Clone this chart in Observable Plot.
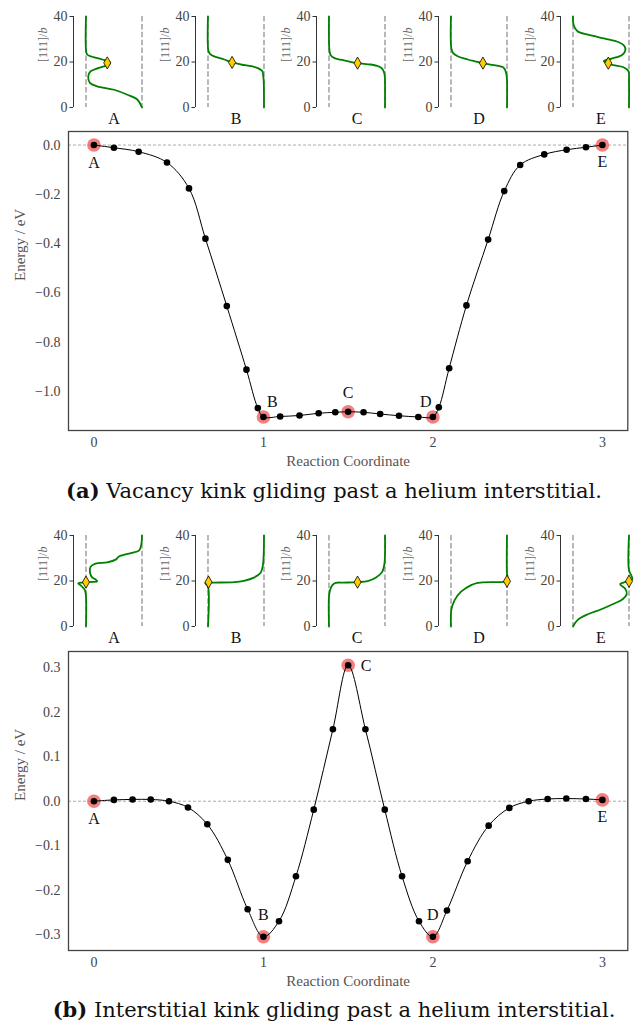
<!DOCTYPE html>
<html><head><meta charset="utf-8">
<script src="https://cdn.jsdelivr.net/npm/d3@7"></script>
<script src="https://cdn.jsdelivr.net/npm/@observablehq/plot@0.6"></script>
<style>
body{margin:0;background:#fff;}
#fig{position:relative;width:634px;height:1025px;overflow:hidden;font-family:"Liberation Serif",serif;background:#fff;}
#fig svg{position:absolute;}
.cap{position:absolute;left:17px;width:634px;text-align:center;font-family:"DejaVu Serif",serif;font-size:21px;color:#111;line-height:1;}
</style></head><body><div id="fig"></div>
<script>
// ---------- DATA ----------
const stateLabels = ["A", "B", "C", "D", "E"];
const stateCoord = [0, 1, 1.5, 2, 3];

// (a) vacancy kink NEB path
const vacX = [0, 0.118, 0.264, 0.431, 0.561, 0.658, 0.784, 0.900, 0.967, 1.0, 1.099, 1.213, 1.326, 1.424, 1.5, 1.591, 1.689, 1.80, 1.914, 2.0, 2.035, 2.096, 2.198, 2.326, 2.421, 2.515, 2.657, 2.789, 2.903, 3.0];
const vacE = [0, -0.011, -0.027, -0.071, -0.176, -0.380, -0.654, -0.912, -1.068, -1.104, -1.102, -1.098, -1.089, -1.085, -1.083, -1.085, -1.092, -1.099, -1.104, -1.104, -1.065, -0.906, -0.651, -0.384, -0.187, -0.081, -0.038, -0.019, -0.009, 0];
const vacYTicks = [0, -0.2, -0.4, -0.6, -0.8, -1.0];

// (b) interstitial kink NEB path
const intX = [0, 0.118, 0.228, 0.335, 0.443, 0.555, 0.669, 0.79, 0.907, 1.0, 1.092, 1.192, 1.297, 1.41, 1.5, 1.602, 1.716, 1.818, 1.918, 2.0, 2.083, 2.205, 2.329, 2.451, 2.565, 2.677, 2.787, 2.903, 3.0];
const intE = [0, 0.003, 0.004, 0.004, 0.0, -0.014, -0.052, -0.132, -0.243, -0.305, -0.270, -0.169, -0.019, 0.162, 0.306, 0.162, -0.019, -0.169, -0.270, -0.305, -0.246, -0.135, -0.055, -0.015, 0.0, 0.005, 0.006, 0.005, 0.003];
const intYTicks = [0.3, 0.2, 0.1, 0, -0.1, -0.2, -0.3];
const xTicks = [0, 1, 2, 3];

// inset dislocation-line profiles: position along [111]/b (z) and glide displacement (x)
const vacProfileZ = [
  [0, 3.4, 5.6, 7.8, 9.3, 10.8, 13.7, 15.9, 17.4, 18.9, 19.8, 21.1, 22.3, 23.3, 25.5, 40],
  [0, 11.6, 14, 16, 17.2, 17.9, 18.9, 19.8, 21.1, 22.5, 23.5, 24.7, 40],
  [0, 11.6, 14, 15.3, 16.5, 17.5, 18.3, 18.9, 19.5, 20.1, 20.7, 21.3, 21.8, 23, 24.7, 40],
  [0, 12, 14.5, 16, 17.5, 18.6, 19.5, 20.3, 21.1, 22.5, 24, 26.2, 40],
  [0, 11.6, 16, 17.7, 18.6, 19.5, 20.4, 21.5, 23, 24.7, 26.9, 28.8, 30.3, 32, 33.5, 36.4, 40]
];
const vacProfileX = [
  [1.0, 0.92, 0.74, 0.5, 0.2, 0.07, 0.04, 0.08, 0.23, 0.41, 0.43, 0.29, 0.11, 0.02, 0, 0],
  [1, 0.995, 0.985, 0.97, 0.9, 0.82, 0.59, 0.43, 0.29, 0.11, 0.04, 0.01, 0],
  [1, 1, 0.995, 0.985, 0.965, 0.93, 0.86, 0.75, 0.51, 0.38, 0.27, 0.16, 0.09, 0.03, 0.01, 0],
  [1, 1, 0.99, 0.975, 0.94, 0.77, 0.57, 0.43, 0.3, 0.12, 0.035, 0.005, 0],
  [1, 1, 0.99, 0.9, 0.72, 0.6, 0.55, 0.69, 0.87, 0.93, 0.92, 0.81, 0.57, 0.27, 0.08, 0.01, 0]
];
const vacHeX = [0.38, 0.43, 0.51, 0.57, 0.63];
const vacHeZ = [19.6, 19.8, 19.5, 19.5, 19.5];

const intProfileZ = [
  [0, 13.1, 16, 18.2, 18.9, 19.3, 19.6, 19.8, 20.7, 21.8, 24, 26.2, 27.6, 28.2, 29.4, 30.8, 32.3, 33.5, 36.4, 40],
  [0, 17.5, 18.6, 19.2, 19.3, 19.5, 20.1, 21.5, 23.6, 26.9, 40],
  [0, 13.1, 16, 18.2, 19.2, 19.3, 19.5, 19.9, 21.5, 24, 27.6, 40],
  [0, 7.3, 11.6, 15.3, 18.2, 19.2, 19.5, 19.7, 19.9, 21.8, 23.3, 40],
  [0, 2.9, 5.4, 7.6, 9.9, 11.9, 14.3, 16.7, 18.6, 19.3, 19.9, 20.7, 22.5, 24.7, 40]
];
const intProfileX = [
  [0, 0, -0.02, -0.1, -0.14, -0.07, 0.11, 0.2, 0.17, 0.1, 0.07, 0.08, 0.17, 0.38, 0.53, 0.59, 0.8, 0.95, 0.99, 1],
  [0, 0, -0.035, -0.05, 0.11, 0.47, 0.64, 0.82, 0.94, 0.98, 1],
  [0, 0, 0.02, 0.06, 0.12, 0.27, 0.51, 0.69, 0.84, 0.95, 0.99, 1],
  [0, 0.006, 0.065, 0.18, 0.36, 0.48, 0.83, 0.98, 1.0, 1.01, 1.0, 1.0],
  [0, 0.084, 0.265, 0.506, 0.717, 0.88, 0.96, 0.93, 0.84, 0.9, 1.0, 1.06, 1.04, 1.0, 1.0]
];
const intHeX = [0.0, 0.01, 0.51, 1.0, 1.0];
const intHeZ = [19.5, 19.5, 19.5, 19.9, 19.9];

const insetZTicks = [0, 20, 40];
const insetZDomain = [0, 40];
const insetXDomain = [-0.223, 1.0];
const dashX = [0, 1];

// ---------- DRAWING ----------
const fig = document.getElementById("fig");
const FONT = "'Liberation Serif', serif";
const fmt = d => d3.format(".1f")(d).replace("-", "\u2212");

function place(svg, left, top) {
  svg.style.left = left + "px";
  svg.style.top = top + "px";
  fig.appendChild(svg);
}

function insetPlot(zs, xs, hx, hz, label) {
  const rows = zs.map((z, i) => ({z, x: xs[i]}));
  const svg = Plot.plot({
    width: 122, height: 125,
    marginLeft: 45, marginRight: 8.5, marginTop: 10, marginBottom: 24,
    x: {domain: insetXDomain, axis: null},
    y: {domain: insetZDomain, axis: null},
    style: {fontFamily: FONT, background: "transparent", overflow: "visible"},
    marks: [
      Plot.ruleX(dashX, {stroke: "#a0a0a0", strokeWidth: 1.5, strokeDasharray: "5.5,2.4"}),
      Plot.ruleX([insetXDomain[0]], {y1: insetZDomain[0], y2: insetZDomain[1], stroke: "#333", strokeWidth: 1}),
      Plot.axisY({ticks: insetZTicks, tickSize: 3.5, tickPadding: 2.5, fontSize: 14, label: null, stroke: "#333", fill: "#444", tickFormat: d => String(d)}),
      Plot.text(["[111]/b"], {frameAnchor: "left", rotate: -90, dx: -30, fontSize: 12, fill: "#666"}),
      Plot.line(rows, {x: "x", y: "z", curve: "catmull-rom", stroke: "#008000", strokeWidth: 1.8}),
      Plot.dot([{x: hx, z: hz}], {x: "x", y: "z", symbol: "diamond", r: 3.7, fill: "#ffcc00", stroke: "#000", strokeWidth: 0.8}),
      Plot.text([label], {x: () => d3.mean(dashX), y: () => insetZDomain[0], dy: 11, lineAnchor: "middle", fontSize: 16, fill: "#111"})
    ]
  });
  svg.querySelectorAll("text").forEach(t => {
    if (t.textContent === "[111]/b") t.innerHTML = '[111]/<tspan font-style="italic">b</tspan>';
  });
  return svg;
}

function mainPlot(xs, es, yDomain, yTicks, offsets) {
  const rows = xs.map((x, i) => ({x, e: es[i]}));
  const states = stateCoord.map((s, k) => {
    const i = xs.findIndex(v => Math.abs(v - s) < 1e-9);
    return {x: xs[i], e: es[i], label: stateLabels[k]};
  });
  return Plot.plot({
    width: 634, height: 350,
    marginLeft: 68, marginRight: 6.7, marginTop: 6, marginBottom: 45,
    x: {domain: [-0.15, 3.15], axis: null},
    y: {domain: yDomain, axis: null},
    style: {fontFamily: FONT, background: "transparent", overflow: "visible"},
    marks: [
      Plot.ruleY([0], {stroke: "#888", strokeWidth: 0.7, strokeDasharray: "3,2"}),
      Plot.axisY({ticks: yTicks, tickSize: 0, tickPadding: 8, tickFormat: fmt, fontSize: 14, fill: "#444", label: null}),
      Plot.axisX({ticks: xTicks, tickSize: 0, tickPadding: 7, tickFormat: d => String(d), fontSize: 14, fill: "#444", label: null}),
      Plot.text(["Energy / eV"], {frameAnchor: "left", rotate: -90, dx: -48, fontSize: 15, fill: "#555"}),
      Plot.text(["Reaction Coordinate"], {frameAnchor: "bottom", dy: 31, lineAnchor: "middle", fontSize: 15, fill: "#555"}),
      Plot.dot(states, {x: "x", y: "e", r: 6.8, fill: "#f26868", fillOpacity: 0.85, stroke: null}),
      Plot.line(rows, {x: "x", y: "e", curve: "catmull-rom", stroke: "#000", strokeWidth: 1}),
      Plot.dot(rows, {x: "x", y: "e", r: 3.3, fill: "#000"}),
      ...states.map((s, k) => Plot.text([s], {x: "x", y: "e", text: "label", dx: offsets[k][0], dy: offsets[k][1], lineAnchor: "middle", fontSize: 16, fill: "#111"})),
      Plot.frame({stroke: "#444", strokeWidth: 1.3})
    ]
  });
}

// insets (a)
const vacDashLeft = [85.3, 207, 328.7, 450.4, 572];
for (let k = 0; k < 5; k++) {
  place(insetPlot(vacProfileZ[k], vacProfileX[k], vacHeX[k], vacHeZ[k], stateLabels[k]), vacDashLeft[k] - 12.5 - 45, 5.5);
}
place(mainPlot(vacX, vacE, [-1.159, 0.055], vacYTicks, [[0, 18], [9, -15], [0, -19], [-7, -15], [0, 17]]), 0, 125);

// insets (b)
for (let k = 0; k < 5; k++) {
  place(insetPlot(intProfileZ[k], intProfileX[k], intHeX[k], intHeZ[k], stateLabels[k]), vacDashLeft[k] - 12.5 - 45, 525);
}
place(mainPlot(intX, intE, [-0.336, 0.337], intYTicks, [[0, 18], [0, -22], [18, 1], [0, -22], [0, 17]]), 0, 645);

// captions
const capA = document.createElement("div");
capA.className = "cap"; capA.style.top = "480px";
capA.innerHTML = "<b>(a)</b> Vacancy kink gliding past a helium interstitial.";
fig.appendChild(capA);
const capB = document.createElement("div");
capB.className = "cap"; capB.style.top = "999px";
capB.innerHTML = "<b>(b)</b> Interstitial kink gliding past a helium interstitial.";
fig.appendChild(capB);
</script></body></html>
